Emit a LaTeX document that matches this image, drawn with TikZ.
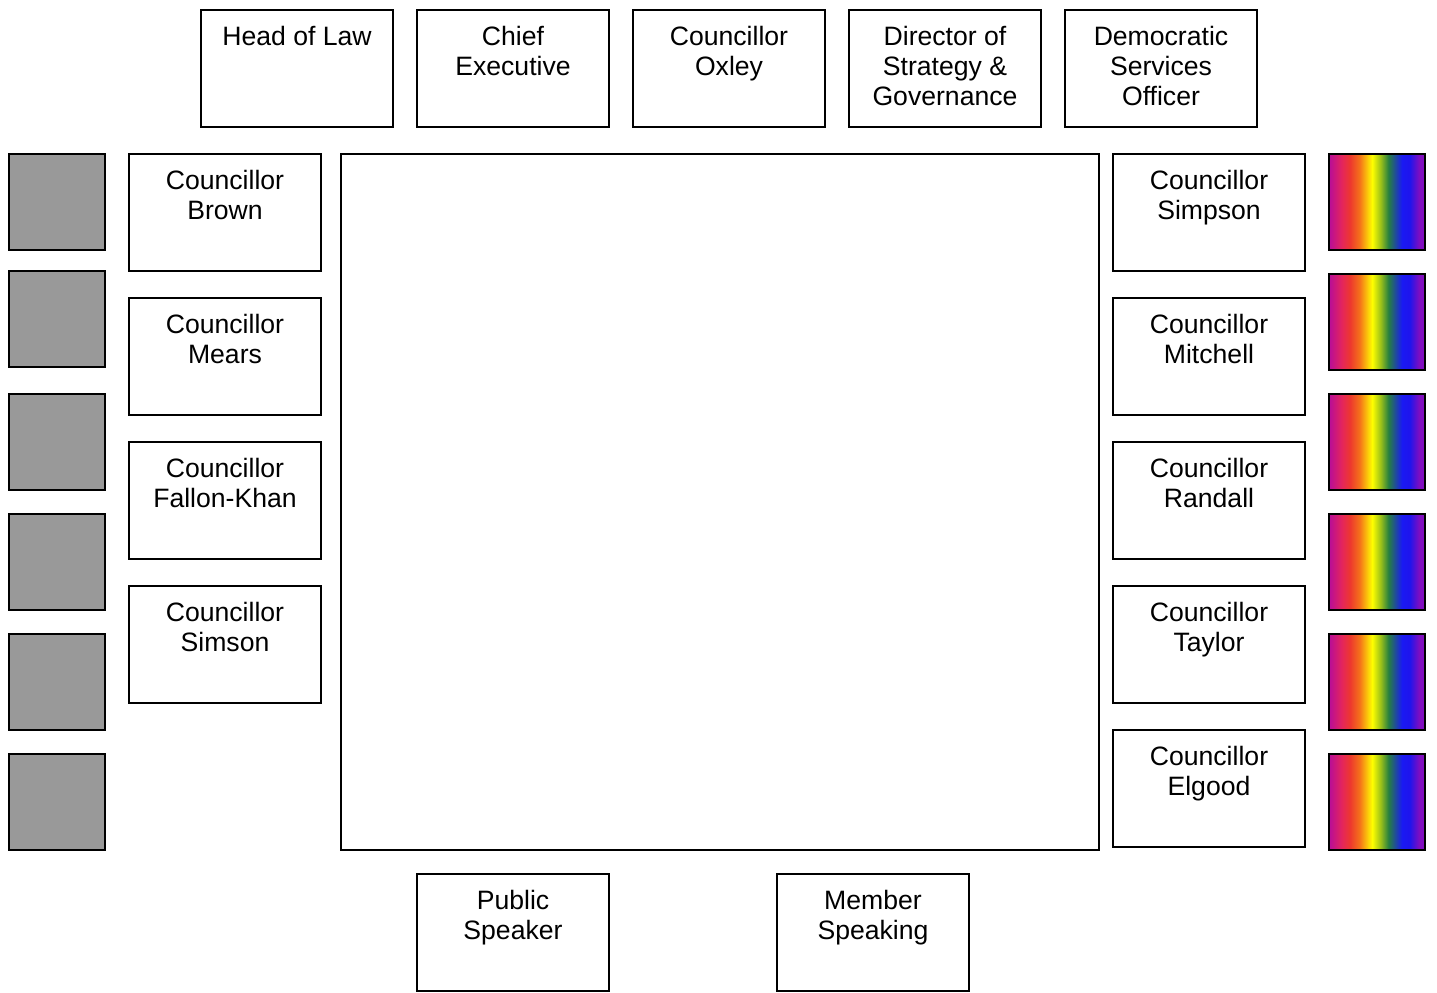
\documentclass[tikz,border=0pt]{standalone}
\usepackage{fontspec}
\setmainfont{Liberation Sans}
\definecolor{seatgrey}{RGB}{153,153,153}
\pgfdeclarehorizontalshading{rainbow}{100bp}{%
  rgb(0bp)=(0.72,0.05,0.6); rgb(25bp)=(0.72,0.05,0.6);
  rgb(32bp)=(0.9,0.15,0.35); rgb(36bp)=(0.93,0.22,0.18);
  rgb(41bp)=(0.96,0.45,0.1); rgb(47.5bp)=(1,1,0);
  rgb(52bp)=(0.6,0.75,0.1); rgb(56bp)=(0.15,0.5,0.25);
  rgb(63bp)=(0.1,0.1,0.95); rgb(67bp)=(0.12,0.08,0.93);
  rgb(72bp)=(0.5,0.05,0.75); rgb(100bp)=(0.5,0.05,0.75)}
\tikzset{
  seat/.style={draw, line width=1pt, minimum width=96pt, minimum height=58.5pt,
    inner sep=0pt, outer sep=0pt, anchor=north west},
  seattext/.style={anchor=north, inner sep=0pt, yshift=-8pt, align=center,
    font=\fontsize{13.3}{15}\selectfont}
}
\tikzset{
  greyseat/.style={draw, line width=1pt, fill=seatgrey, minimum size=48pt,
    inner sep=0pt, outer sep=0pt, anchor=north west},
  prideseat/.style={greyseat, shade, shading=rainbow}
}

\begin{document}
\begin{tikzpicture}[x=0.5pt, y=-0.5pt]
  \useasboundingbox (0,0) rectangle (1437,992);
  % officers along the top
  \node[seat, label={[seattext]north:Head of Law}] (law) at (201,10) {};
  \node[seat, label={[seattext]north:{Chief\\Executive}}] (chief) at (417,10) {};
  \node[seat, label={[seattext]north:{Councillor\\Oxley}}] (oxley) at (633,10) {};
  \node[seat, label={[seattext]north:{Director of\\Strategy \&\\Governance}}] (director) at (849,10) {};
  \node[seat, label={[seattext]north:{Democratic\\Services\\Officer}}] (democratic) at (1065,10) {};
  % chamber table
  \node[draw, line width=1pt, minimum width=379pt, minimum height=348pt,
    inner sep=0pt, outer sep=0pt, anchor=north west] (table) at (341,154) {};
  % grey seats and left councillors
  \foreach \y [count=\i] in {154,271,394,514,634,754}
    \node[greyseat] (grey\i) at (9,\y) {};
  \foreach \y/\name/\who in {154/brown/Brown, 298/mears/Mears,
      442/fallon/Fallon-Khan, 586/simson/Simson}
    \node[seat, label={[seattext]north:{Councillor\\\who}}] (\name) at (129,\y) {};
  % right councillors and rainbow seats
  \foreach \y/\name/\who in {154/simpson/Simpson, 298/mitchell/Mitchell,
      442/randall/Randall, 586/taylor/Taylor, 730/elgood/Elgood}
    \node[seat, label={[seattext]north:{Councillor\\\who}}] (\name) at (1113,\y) {};
  \foreach \y [count=\i] in {154,274,394,514,634,754}
    \node[prideseat] (pride\i) at (1329,\y) {};
  % speakers at the bottom
  \node[seat, label={[seattext]north:{Public\\Speaker}}] (public) at (417,874) {};
  \node[seat, label={[seattext]north:{Member\\Speaking}}] (member) at (777,874) {};
\end{tikzpicture}
\end{document}
